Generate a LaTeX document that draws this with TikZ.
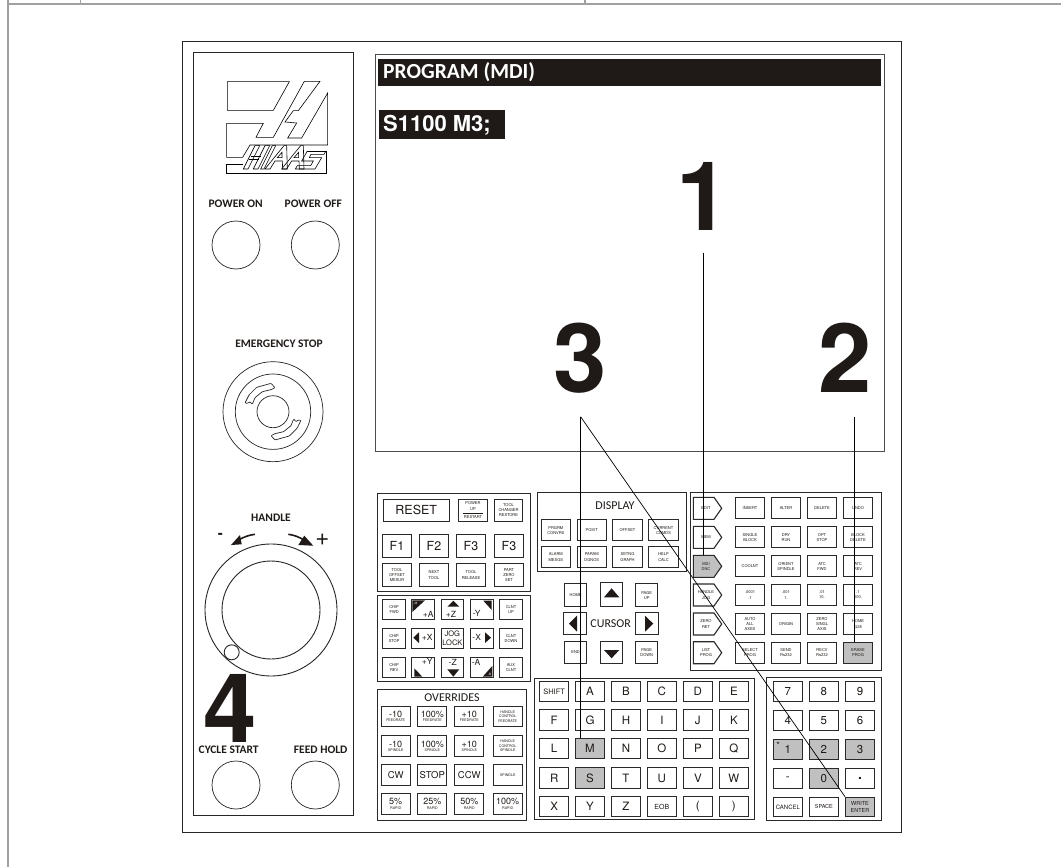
\documentclass[tikz,border=0pt]{standalone}
\usepackage{fontspec}
\setmainfont{TeX Gyre Heros}
\newfontfamily\carl{Carlito}
\definecolor{ink}{HTML}{1F1A17}
\definecolor{keygray}{HTML}{C0C0C0}
\definecolor{pagegray}{HTML}{A0A0A0}
\definecolor{edge}{HTML}{2A2A2A}
\newcommand{\fs}[1]{\fontsize{#1}{10}\selectfont}
\newcommand{\tn}{\fontsize{4}{5.2}\selectfont}
\newcommand{\ov}[2]{{\fontsize{9}{11}\selectfont #1}\\[-1pt]{\fontsize{3.6}{4.5}\selectfont #2}}
\tikzset{
  panel/.style={draw=edge,line width=1pt,fill=white},
  keybox/.style={draw=edge,line width=1.1pt,fill=white,inner sep=0pt,align=center,text=ink,font=\tn},
  frame/.style={draw=black!85,line width=0.9pt},
  disc/.style={draw=black!85,line width=0.7pt},
  leader/.style={draw=black,line width=0.7pt},
  bignum/.style={inner sep=0pt,text=ink,font=\fontsize{96}{96}\selectfont\bfseries},
  lab/.style={inner sep=0pt,text=ink,font=\carl\fontsize{11.5}{13}\selectfont\bfseries},
  plab/.style={inner sep=0pt,text=ink,font=\carl\fontsize{12}{14}\selectfont},
  logo/.style={draw=black,line width=0.6pt,line join=miter},
  alpha/.style={font=\fs{11.5}},
}
% name, x1, y1, x2, y2, style options, text
\newcommand{\K}[7]{%
  \pgfmathsetmacro{\kw}{#4-#2}\pgfmathsetmacro{\kh}{#5-#3}%
  \pgfmathsetmacro{\kx}{(#2+#4)/2}\pgfmathsetmacro{\ky}{(#3+#5)/2}%
  \node[keybox,minimum width=\kw pt-1.1pt,minimum height=\kh pt-1.1pt,#6] (#1) at (\kx,\ky) {#7};}
% pentagon key: name, y1, y2, fill, text
\newcommand{\Pent}[5]{%
  \draw[draw=edge,line width=1.1pt,fill=#4] (693.3,#2) -- (714,#2) -- (721.7,{(#2+#3)/2}) -- (714,#3) -- (693.3,#3) -- cycle;
  \coordinate (#1top) at (706,#2);
  \node[inner sep=0pt,align=center,font=\tn,text=ink] (#1) at (706,{(#2+#3)/2}) {#5};}
\begin{document}
\begin{tikzpicture}[x=1pt,y=-1pt]
\useasboundingbox (0,0) rectangle (1061,867);
\fill[white] (0,0) rectangle (1061,867);
% page rules
\draw[pagegray,line width=1.6pt] (8,0) -- (8,867);
\draw[pagegray,line width=1.6pt] (8,4) -- (1061,4);
\draw[pagegray,line width=1.2pt] (80.5,0) -- (80.5,4);
\draw[pagegray,line width=1.2pt] (585,0) -- (585,4);
% frames
\draw[frame] (182.5,41) rectangle (901.7,832.7);
\draw[frame] (193,52.5) rectangle (353.5,815);
% logo
\begin{scope}[shift={(220,75)},x=0.3333pt,y=-0.3333pt]
 \draw[logo] (22,20) -- (208,20) -- (160,106) -- (22,106) -- cycle;
 \draw[logo] (300,19) -- (253,19) -- (160,187) -- (108,187) -- (130,145) -- (20,145) -- (20,247) -- (68,247) -- (90,210) -- (323,210) -- (323,54) -- (245,189) -- (203,189) -- (230,144) -- (195,141) -- (220,107) -- (235,107) -- cycle;
 \draw[logo] (70,267) -- (18,267) -- (18,295) -- (318,295) -- (318,228) -- (262,228);
 % letters
 \draw[logo] (70,282) -- (105,212) -- (119,212) -- (84,282) -- cycle;
 \draw[logo] (100,282) -- (135,212) -- (149,212) -- (114,282) -- cycle;
 \draw[logo] (92,245) -- (122,245);
 \draw[logo] (87,254) -- (117,254);
 \draw[logo] (122,282) -- (157,212) -- (167,212) -- (132,282) -- cycle;
 \draw[logo] (135,282) -- (192,212) -- (200,212) -- (202,282) -- (188,282) -- (187,258) -- (165,258) -- (150,282) -- cycle;
 \draw[logo] (172,248) -- (186,248) -- (186,232) -- cycle;
 \draw[logo] (185,282) -- (242,212) -- (250,212) -- (252,282) -- (238,282) -- (237,258) -- (215,258) -- (200,282) -- cycle;
 \draw[logo] (222,248) -- (236,248) -- (236,232) -- cycle;
 \draw[logo] (262,228) -- (245,258) -- (280,258) -- (272,272) -- (232,272) -- (226,282) -- (285,282) -- (305,248) -- (268,248) -- (273,238) -- (312,238) -- (318,228);
\end{scope}
% left-panel labels and buttons
\node[lab] (lpon) at (235.7,203.3) {POWER ON};
\node[lab] (lpoff) at (313.3,203.3) {POWER OFF};
\draw[disc] (236,245) circle (24);
\draw[disc] (315.3,245) circle (24);
\node[lab] (lestop) at (279,343.3) {EMERGENCY STOP};
\draw[disc] (273,411.7) circle (50);
\draw[disc] (273,411.7) circle (37.7);
\draw[disc] (273,411.7) circle (16);
\begin{scope}[shift={(235,375)},x=0.3333pt,y=-0.3333pt]
 \draw[disc,rounded corners=0.8pt] (30,84) -- (42,60) -- (65,37) -- (108,25) -- (120,38) -- (108,44) -- (82,50) -- (60,68) -- (52,88) -- (45,80) -- (38,85) -- cycle;
 \draw[disc,rounded corners=0.8pt] (198,136) -- (186,160) -- (163,183) -- (120,195) -- (108,182) -- (120,176) -- (146,170) -- (168,152) -- (176,132) -- (183,140) -- (190,135) -- cycle;
\end{scope}
\node[lab] (lhandle) at (271,518) {HANDLE};
\node[inner sep=0pt,text=ink,font=\fontsize{15}{15}\selectfont\bfseries] (lminus) at (220.3,535.5) {-};
\node[inner sep=0pt,text=ink,font=\fontsize{24}{24}\selectfont] (lplus) at (322.3,540) {+};
\draw[ink,line width=1.6pt] (255,534.3) .. controls (249,535) and (244,537) .. (238.3,540);
\fill[ink] (231,545) -- (241.7,544.3) -- (240,535) -- cycle;
\draw[ink,line width=1.6pt] (288.3,534.3) .. controls (294,535) and (299,537) .. (304,540);
\fill[ink] (313.3,545.7) -- (298.3,545) -- (304.3,535.7) -- cycle;
\draw[disc,line width=0.9pt] (271,610) circle (66);
\draw[disc,line width=0.9pt] (271,610) circle (49);
\draw[disc,line width=0.9pt] (231.7,652.3) circle (7.5);
\node[bignum] (n4) at (230.5,708.5) {4};
\node[lab] (lcycle) at (228.7,750) {CYCLE START};
\node[lab] (lfeed) at (320.7,750) {FEED HOLD};
\draw[disc] (236,785) circle (24);
\draw[disc] (315.3,785) circle (24);
% screen
\draw[draw=black!70,line width=1pt] (375.6,54.5) rectangle (884,451);
\fill[ink] (377.6,59) rectangle (880.5,85.7);
\node[anchor=west,inner sep=0pt,text=white,font=\carl\fontsize{21.5}{24}\selectfont\bfseries] (title) at (383,72.5) {PROGRAM (MDI)};
\fill[ink] (379,110) rectangle (505,138.7);
\node[anchor=west,inner sep=0pt,text=white,font=\fontsize{22}{24}\selectfont\bfseries] (code) at (383,125) {S1100 M3;};
\node[bignum] (n1) at (703,196.5) {1};
\node[bignum] (n3) at (580.5,358) {3};
\node[bignum] (n2) at (845,357.5) {2};
% panels
\draw[panel] (377.7,493) rectangle (530.7,591.7);
\draw[panel] (377,595) rectangle (530.7,681.7);
\draw[panel] (377,689.3) rectangle (526,820);
\draw[panel] (537.7,492.7) rectangle (686,571.7);
\draw[panel] (690.7,492.7) rectangle (881.7,670);
\draw[panel] (534.3,678.3) rectangle (754.3,819.3);
\draw[panel] (766.7,677.7) rectangle (881.7,820);
% reset panel
\K{reset}{382.5}{498.5}{450}{522}{font=\fs{12.5}}{RESET}
\K{pup}{458}{498.5}{488}{522}{}{POWER\\UP\\[-1.5pt]\rule{20pt}{0.8pt}\\[-0.5pt]RESTART}
\K{tcr}{494}{498.5}{523}{522}{}{TOOL\\CHANGER\\RESTORE}
\K{f1}{382}{534}{412}{558}{font=\fs{12.5}}{F1}
\K{f2}{419}{534}{449}{558}{font=\fs{12.5}}{F2}
\K{f3a}{456}{534}{486}{558}{font=\fs{12.5}}{F3}
\K{f3b}{494}{534}{524}{558}{font=\fs{12.5}}{F3}
\K{tom}{382}{563}{412}{587}{}{TOOL\\OFFSET\\MESUR}
\K{ntl}{419}{563}{449}{587}{}{NEXT\\TOOL}
\K{trl}{456}{563}{486}{587}{}{TOOL\\RELEASE}
\K{pzs}{494}{563}{524}{587}{}{PART\\ZERO\\SET}
% jog panel
\K{cf}{382.3}{599.3}{406}{620}{}{CHIP\\FWD}
\K{jpa}{411.3}{599.3}{435}{620}{}{}
\K{jpz}{440.7}{599.3}{464}{620}{}{}
\K{jmy}{470}{599.3}{493.7}{620}{}{}
\K{cu}{499}{599.3}{523}{620}{}{CLNT\\UP}
\K{cs}{382.3}{628}{406}{649}{}{CHIP\\STOP}
\K{jpx}{411.3}{628}{435}{649}{}{}
\K{jl}{440.7}{628}{464}{649}{font=\fontsize{7.5}{8.8}\selectfont}{JOG\\LOCK}
\K{jmx}{470}{628}{493.7}{649}{}{}
\K{cd}{499}{628}{523}{649}{}{CLNT\\DOWN}
\K{cr}{382.3}{656.7}{406}{678}{}{CHIP\\REV}
\K{jpy}{411.3}{656.7}{435}{678}{}{}
\K{jmz}{440.7}{656.7}{464}{678}{}{}
\K{jma}{470}{656.7}{493.7}{678}{}{}
\K{ac}{499}{656.7}{523}{678}{}{AUX\\CLNT}
\fill[ink] (412.3,600.3) -- (425,600.3) -- (412.3,612) -- cycle;
\node[inner sep=0pt,text=white,font=\fontsize{3}{3}\selectfont] (tb1) at (415.5,603) {+B};
\node[inner sep=0pt,font=\fs{8.5},text=ink] (tpa) at (428.3,614.3) {+A};
\fill[ink] (447.3,606.7) -- (459.3,606.7) -- (453.3,600.7) -- cycle;
\node[inner sep=0pt,font=\fs{8.5},text=ink] (tpz) at (451,614.5) {+Z};
\fill[ink] (483.3,600.7) -- (491.7,600.7) -- (491.7,610) -- cycle;
\node[inner sep=0pt,font=\fs{8.5},text=ink] (tmy) at (476.7,613.3) {-Y};
\fill[ink] (413.3,637.7) -- (419,632.3) -- (419,643) -- cycle;
\node[inner sep=0pt,font=\fs{8.5},text=ink] (tpx) at (427.3,637.7) {+X};
\fill[ink] (491,637.7) -- (485,632.3) -- (485,643) -- cycle;
\node[inner sep=0pt,font=\fs{8.5},text=ink] (tmx) at (476.7,637.7) {-X};
\fill[ink] (414.3,668.3) -- (414.3,676.7) -- (422.3,676.7) -- cycle;
\node[inner sep=0pt,font=\fs{8.5},text=ink] (tpy) at (427.3,661.5) {+Y};
\fill[ink] (447.3,669.3) -- (459.3,669.3) -- (453.3,676.7) -- cycle;
\node[inner sep=0pt,font=\fs{8.5},text=ink] (tmz) at (452.7,662) {-Z};
\fill[ink] (492.3,666) -- (492.3,676.7) -- (482.7,676.7) -- cycle;
\node[inner sep=0pt,text=white,font=\fontsize{3}{3}\selectfont] (tb2) at (489.5,674) {-B};
\node[inner sep=0pt,font=\fs{8.5},text=ink] (tma) at (476,662) {-A};
% overrides
\node[plab] (lov) at (452,697.5) {OVERRIDES};
\K{o11}{380.7}{706}{410.7}{726.7}{}{\ov{-10}{FEEDRATE}}
\K{o12}{417.3}{706}{447.3}{726.7}{}{\ov{100\%}{FEEDRATE}}
\K{o13}{454.3}{706}{484.3}{726.7}{}{\ov{+10}{FEEDRATE}}
\K{o14}{492.7}{706}{522.7}{726.7}{font=\fontsize{3.6}{4.4}\selectfont}{HANDLE\\CONTROL\\FEEDRATE}
\K{o21}{380.7}{735}{410.7}{757}{}{\ov{-10}{SPINDLE}}
\K{o22}{417.3}{735}{447.3}{757}{}{\ov{100\%}{SPINDLE}}
\K{o23}{454.3}{735}{484.3}{757}{}{\ov{+10}{SPINDLE}}
\K{o24}{492.7}{735}{522.7}{757}{font=\fontsize{3.6}{4.4}\selectfont}{HANDLE\\CONTROL\\SPINDLE}
\K{o31}{380.7}{764}{410.7}{786}{font=\fs{9.5}}{CW}
\K{o32}{417.3}{764}{447.3}{786}{font=\fs{9.5}}{STOP}
\K{o33}{454.3}{764}{484.3}{786}{font=\fs{9.5}}{CCW}
\K{o34}{492.7}{764}{522.7}{786}{font=\fontsize{3.6}{4.4}\selectfont}{SPINDLE}
\K{o41}{380.7}{792.7}{410.7}{815}{}{\ov{5\%}{RAPID}}
\K{o42}{417.3}{792.7}{447.3}{815}{}{\ov{25\%}{RAPID}}
\K{o43}{454.3}{792.7}{484.3}{815}{}{\ov{50\%}{RAPID}}
\K{o44}{492.7}{792.7}{522.7}{815}{}{\ov{100\%}{RAPID}}
% display
\node[plab] (ldisp) at (615,505.5) {DISPLAY};
\K{d11}{540.7}{519.3}{571}{541}{}{PRGRM\\CONVRS}
\K{d12}{576.7}{519.3}{606.7}{541}{}{POSIT}
\K{d13}{612.3}{519.3}{642.7}{541}{}{OFFSET}
\K{d14}{648.3}{519.3}{678.7}{541}{}{CURRENT\\COMDS}
\K{d21}{540.7}{546}{571}{568}{}{ALARM\\MESGS}
\K{d22}{576.7}{546}{606.7}{568}{}{PARAM\\DGNOS}
\K{d23}{612.3}{546}{642.7}{568}{}{SETNG\\GRAPH}
\K{d24}{648.3}{546}{678.7}{568}{}{HELP\\CALC}
% cursor
\K{home}{564.3}{583.3}{587}{607}{}{HOME}
\K{kup}{600}{582}{623}{607}{}{}
\K{pgu}{635.3}{583.3}{658}{607}{}{PAGE\\UP}
\K{kleft}{563}{612.3}{587}{635}{}{}
\K{kright}{635.3}{612.3}{659}{635}{}{}
\K{kend}{564.3}{640.7}{587}{664}{}{END}
\K{kdn}{600}{640.7}{623}{664}{}{}
\K{pgd}{635.3}{640.7}{658}{664}{}{PAGE\\DOWN}
\node[plab] (lcur) at (610.7,624) {CURSOR};
\fill[ink] (604,597.3) -- (619.3,597.3) -- (611.6,588.3) -- cycle;
\fill[ink] (604,650) -- (619.3,650) -- (611.6,658.3) -- cycle;
\fill[ink] (577,615.7) -- (577,631.7) -- (569,623.7) -- cycle;
\fill[ink] (645,615.7) -- (645,631.7) -- (653.3,623.7) -- cycle;
% edit panel
\Pent{edit}{497.3}{519.3}{white}{EDIT}
\Pent{mem}{526.3}{548.3}{white}{MEM}
\Pent{mdi}{555.3}{577.3}{keygray}{MDI\\DNC}
\Pent{hjog}{584}{606}{white}{HANDLE\\JOG}
\Pent{zret}{613}{635}{white}{ZERO\\RET}
\Pent{lprog}{641.7}{663.7}{white}{LIST\\PROG}
\K{e11}{735}{497.3}{765}{519.3}{}{INSERT}
\K{e12}{771}{497.3}{801}{519.3}{}{ALTER}
\K{e13}{807}{497.3}{837}{519.3}{}{DELETE}
\K{e14}{843}{497.3}{873}{519.3}{}{UNDO}
\K{e21}{735}{526.3}{765}{548.3}{}{SINGLE\\BLOCK}
\K{e22}{771}{526.3}{801}{548.3}{}{DRY\\RUN}
\K{e23}{807}{526.3}{837}{548.3}{}{OPT\\STOP}
\K{e24}{843}{526.3}{873}{548.3}{}{BLOCK\\DELETE}
\K{e31}{735}{555.3}{765}{577.3}{}{COOLNT}
\K{e32}{771}{555.3}{801}{577.3}{}{ORIENT\\SPINDLE}
\K{e33}{807}{555.3}{837}{577.3}{}{ATC\\FWD}
\K{e34}{843}{555.3}{873}{577.3}{}{ATC\\REV}
\K{e41}{735}{584}{765}{606}{}{.0001\\.1}
\K{e42}{771}{584}{801}{606}{}{.001\\1.}
\K{e43}{807}{584}{837}{606}{}{.01\\10.}
\K{e44}{843}{584}{873}{606}{}{.1\\100.}
\K{e51}{735}{613}{765}{635}{}{AUTO\\ALL\\AXES}
\K{e52}{771}{613}{801}{635}{}{ORIGIN}
\K{e53}{807}{613}{837}{635}{}{ZERO\\SINGL\\AXIS}
\K{e54}{843}{613}{873}{635}{}{HOME\\G28}
\K{e61}{735}{641.7}{765}{663.7}{}{SELECT\\PROG}
\K{e62}{771}{641.7}{801}{663.7}{}{SEND\\Rs232}
\K{e63}{807}{641.7}{837}{663.7}{}{RECV\\Rs232}
\K{erase}{843}{641.7}{873}{663.7}{fill=keygray}{ERASE\\PROG}
% alpha panel
\K{shift}{539}{681}{569.3}{702}{font=\fs{7.5}}{SHIFT}
\K{ka}{575}{681}{605}{702}{alpha}{A}
\K{kb}{611}{681}{641}{702}{alpha}{B}
\K{kc}{646.7}{681}{677}{702}{alpha}{C}
\K{kd}{682.7}{681}{713}{702}{alpha}{D}
\K{ke}{718.7}{681}{749}{702}{alpha}{E}
\K{kf}{539}{709.3}{569.3}{731}{alpha}{F}
\K{kg}{575}{709.3}{605}{731}{alpha}{G}
\K{kh}{611}{709.3}{641}{731}{alpha}{H}
\K{ki}{646.7}{709.3}{677}{731}{alpha}{I}
\K{kj}{682.7}{709.3}{713}{731}{alpha}{J}
\K{kk}{718.7}{709.3}{749}{731}{alpha}{K}
\K{kl}{539}{738.3}{569.3}{759}{alpha}{L}
\K{km}{575}{738.3}{605}{759}{alpha,fill=keygray}{M}
\K{kn}{611}{738.3}{641}{759}{alpha}{N}
\K{ko}{646.7}{738.3}{677}{759}{alpha}{O}
\K{kp}{682.7}{738.3}{713}{759}{alpha}{P}
\K{kq}{718.7}{738.3}{749}{759}{alpha}{Q}
\K{kr}{539}{767.3}{569.3}{789}{alpha}{R}
\K{ks}{575}{767.3}{605}{789}{alpha,fill=keygray}{S}
\K{kt}{611}{767.3}{641}{789}{alpha}{T}
\K{ku}{646.7}{767.3}{677}{789}{alpha}{U}
\K{kv}{682.7}{767.3}{713}{789}{alpha}{V}
\K{kw}{718.7}{767.3}{749}{789}{alpha}{W}
\K{kx}{539}{796}{569.3}{817}{alpha}{X}
\K{ky}{575}{796}{605}{817}{alpha}{Y}
\K{kz}{611}{796}{641}{817}{alpha}{Z}
\K{eob}{646.7}{796}{677}{817}{font=\fs{7}}{EOB}
\K{klp}{682.7}{796}{713}{817}{alpha}{(}
\K{krp}{718.7}{796}{749}{817}{alpha}{)}
% number pad
\K{n7}{772.7}{681}{803}{702}{alpha}{7}
\K{n8}{808.7}{681}{839}{702}{alpha}{8}
\K{n9}{845}{681}{875}{702}{alpha}{9}
\K{n4k}{772.7}{710}{803}{731}{alpha}{4}
\K{n5}{808.7}{710}{839}{731}{alpha}{5}
\K{n6}{845}{710}{875}{731}{alpha}{6}
\K{n1k}{772.7}{739}{803}{760}{alpha,fill=keygray}{1}
\node[inner sep=0pt,font=\fs{9},text=ink] (star) at (778,745) {*};
\K{n2k}{808.7}{739}{839}{760}{alpha,fill=keygray}{2}
\K{n3k}{845}{739}{875}{760}{alpha,fill=keygray}{3}
\K{nm}{772.7}{767.7}{803}{789}{alpha}{-}
\K{n0}{808.7}{767.7}{839}{789}{alpha,fill=keygray}{0}
\K{ndot}{845}{767.7}{875}{789}{font=\fs{14}\bfseries}{.}
\K{cancel}{772.7}{796.7}{803}{817}{font=\fs{6}}{CANCEL}
\K{space}{808.7}{796.7}{839}{817}{font=\fs{5.5}}{SPACE}
\K{enter}{845}{796.7}{875}{817}{fill=keygray,font=\fontsize{5.5}{6.6}\selectfont}{WRITE\\ENTER}
% leaders
\coordinate (c1) at (703,252.7);
\coordinate (c2) at (854.3,416.7);
\coordinate (c3) at (580.6,416.7);
\draw[leader] (c1) -- (c1 |- mditop);
\draw[leader] (c2) -- (c2 |- erase.north);
\draw[leader] (c3) -- (c3 |- km.north);
\draw[leader] (c3) -- (enter.north west);
\end{tikzpicture}
\end{document}
